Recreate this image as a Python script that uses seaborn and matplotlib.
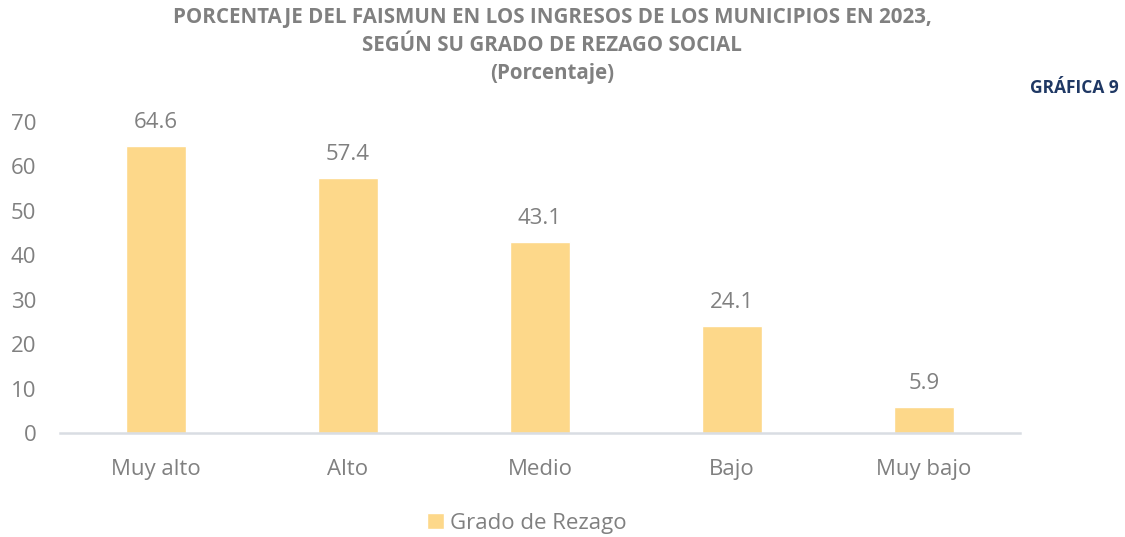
import matplotlib
matplotlib.use('Agg')
import matplotlib.pyplot as plt
import seaborn as sns
import pandas as pd

categorias = ['Muy alto', 'Alto', 'Medio', 'Bajo', 'Muy bajo']
porcentaje = [64.6, 57.4, 43.1, 24.1, 5.9]
yticks = [0, 10, 20, 30, 40, 50, 60, 70]

data = pd.DataFrame({'grado': categorias, 'valor': porcentaje, 'serie': 'Grado de Rezago'})

sns.set_style('white')
plt.rcParams['font.family'] = ['Open Sans', 'DejaVu Sans']

gris = '#808080'
barra = '#FDD88A'

fig = plt.figure(figsize=(11.25, 5.37), dpi=100)
ax = fig.add_axes([0.0533, 0.1937, 0.8534, 0.5791])

sns.barplot(data=data, x='grado', y='valor', hue='serie', palette=[barra],
            width=0.31, saturation=1, ax=ax, legend=True)

for c in ax.containers:
    ax.bar_label(c, fmt='%.1f', padding=9, fontsize=16, color=gris)

ax.set_ylim(0, 70)
ax.set_xlim(-0.5, 4.5)
ax.set_yticks(yticks)
ax.set_xlabel('')
ax.set_ylabel('')
ax.tick_params(axis='x', length=0, pad=19, labelsize=16, labelcolor=gris)
ax.tick_params(axis='y', length=0, pad=17, labelsize=16, labelcolor=gris)
for s in ['top', 'right', 'left']:
    ax.spines[s].set_visible(False)
ax.spines['bottom'].set_color('#D9DDE3')
ax.spines['bottom'].set_linewidth(1.8)

leg = ax.legend(loc='center', bbox_to_anchor=(527 / 1125, 1 - 523 / 537),
                bbox_transform=fig.transFigure, frameon=False, fontsize=16,
                handlelength=0.75, handleheight=0.75, handletextpad=0.3)
for t in leg.get_texts():
    t.set_color(gris)

fig.text(0.491, 0.968, 'PORCENTAJE DEL FAISMUN EN LOS INGRESOS DE LOS MUNICIPIOS EN 2023,',
         ha='center', va='center', fontsize=14.8, fontweight='bold', color=gris)
fig.text(0.491, 0.916, 'SEGÚN SU GRADO DE REZAGO SOCIAL',
         ha='center', va='center', fontsize=14.8, fontweight='bold', color=gris)
fig.text(0.491, 0.864, '(Porcentaje)',
         ha='center', va='center', fontsize=14.8, fontweight='bold', color=gris)
fig.text(0.994, 0.837, 'GRÁFICA 9', ha='right', va='center',
         fontsize=12.5, fontweight='bold', color='#1F3864')

fig.savefig('out.png', dpi=100)
